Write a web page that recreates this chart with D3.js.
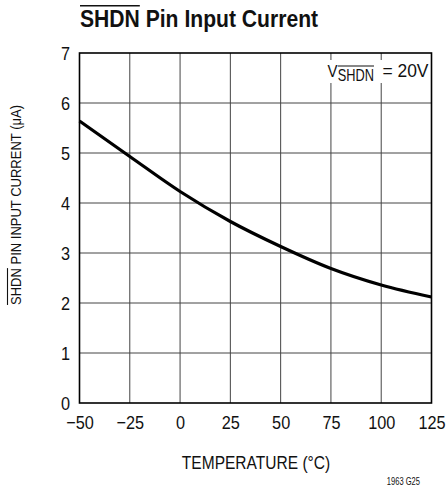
<!DOCTYPE html>
<html>
<head>
<meta charset="utf-8">
<script src="https://cdn.jsdelivr.net/npm/d3@7"></script>
<style>
  html, body { margin: 0; padding: 0; background: #fff; }
  svg { display: block; }
  text { font-family: "Liberation Sans", Arial, Helvetica, sans-serif; fill: #111; }
</style>
</head>
<body>
<svg id="chart" width="447" height="491"></svg>
<script>
// SHDN pin input current vs. temperature (V_SHDN = 20V)
const temperatures = [-50, -25, 0, 25, 50, 75, 100, 125];
const currents     = [5.64, 4.93, 4.23, 3.63, 3.13, 2.69, 2.36, 2.12];
const xTicks = [-50, -25, 0, 25, 50, 75, 100, 125];
const yTicks = [0, 1, 2, 3, 4, 5, 6, 7];

const svg = d3.select("#chart");
const plot = { left: 79.5, right: 431.5, top: 53, bottom: 403 };

const x = d3.scaleLinear().domain([-50, 125]).range([plot.left, plot.right]);
const y = d3.scaleLinear().domain([0, 7]).range([plot.bottom, plot.top]);

// condensed text: a group that squeezes its contents horizontally
function squeezed(px, py, sx) {
  return svg.append("g").attr("transform", `translate(${px},${py}) scale(${sx},1)`);
}
function overlineChars(g, textSel, from, to, yLine, w) {
  const n = textSel.node();
  const s = n.getStartPositionOfChar(from);
  const e = n.getEndPositionOfChar(to);
  g.append("line").attr("x1", s.x).attr("x2", e.x)
    .attr("y1", yLine).attr("y2", yLine)
    .attr("stroke", "#111").attr("stroke-width", w);
}

// grid
const grid = svg.append("g");
grid.selectAll("line.v").data(xTicks.slice(1, -1)).join("line")
  .attr("x1", d => x(d)).attr("x2", d => x(d))
  .attr("y1", plot.top).attr("y2", plot.bottom)
  .attr("stroke", "#444").attr("stroke-width", 1);
grid.selectAll("line.h").data(yTicks.slice(1, -1)).join("line")
  .attr("y1", d => y(d)).attr("y2", d => y(d))
  .attr("x1", plot.left).attr("x2", plot.right)
  .attr("stroke", "#444").attr("stroke-width", 1);

// curve
const line = d3.line().x((d, i) => x(temperatures[i])).y(d => y(d)).curve(d3.curveMonotoneX);
svg.append("path").datum(currents)
  .attr("d", line).attr("fill", "none")
  .attr("stroke", "#000").attr("stroke-width", 3.2).attr("stroke-linejoin", "round");

// legend: white box over the grid, then V_SHDN = 20V
svg.append("rect").attr("x", 324).attr("y", 60).attr("width", 106).attr("height", 23).attr("fill", "#fff");
{
  let cx = 327.5;
  const sxV = 0.88, sxS = 0.8;
  const gV = squeezed(cx, 77, sxV);
  const tV = gV.append("text").attr("font-size", 17).text("V");
  cx += tV.node().getComputedTextLength() * sxV + 0.3;
  const gSub = squeezed(cx, 80.5, sxS);
  const subT = gSub.append("text").attr("font-size", 16).text("SHDN");
  overlineChars(gSub, subT, 0, 3, -14.5, 1.2);
  const gEq = squeezed(428.5, 77, 0.97);
  gEq.append("text").attr("font-size", 18).attr("text-anchor", "end").text("= 20V");
}

// frame
svg.append("rect")
  .attr("x", plot.left).attr("y", plot.top)
  .attr("width", plot.right - plot.left).attr("height", plot.bottom - plot.top)
  .attr("fill", "none").attr("stroke", "#000").attr("stroke-width", 1.6);

// axes (tick labels only; grid and frame draw the lines)
const tickSx = 0.88;
const xAxis = d3.axisBottom(x).tickValues(xTicks).tickSize(0)
  .tickFormat(d => d < 0 ? "\u2212" + Math.abs(d) : String(d));
const gx = svg.append("g").attr("transform", `translate(0,${plot.bottom})`).call(xAxis);
gx.select(".domain").remove();
gx.selectAll("text")
  .attr("font-size", 18.5).attr("font-family", null).attr("fill", "#111")
  .attr("y", 26).attr("dy", 0)
  .attr("transform", `scale(${tickSx},1)`);

const yAxis = d3.axisLeft(y).tickValues(yTicks).tickSize(0).tickFormat(d3.format("d"));
const gy = svg.append("g").attr("transform", `translate(${plot.left},0)`).call(yAxis);
gy.select(".domain").remove();
gy.selectAll("text")
  .attr("font-size", 18.5).attr("font-family", null).attr("fill", "#111")
  .attr("x", -9.5 / tickSx).attr("dy", "0.37em")
  .attr("transform", `scale(${tickSx},1)`);

// title
const gTitle = squeezed(80, 27.3, 0.88);
const titleT = gTitle.append("text").attr("font-size", 24).attr("font-weight", "bold")
  .text("SHDN Pin Input Current");
overlineChars(gTitle, titleT, 0, 3, -21.5, 1.6);

// x axis title
const gXT = squeezed(256, 469, 0.84);
gXT.append("text").attr("font-size", 18.5).attr("text-anchor", "middle")
  .text("TEMPERATURE (\u00B0C)");

// y axis title
const gYT = svg.append("g").attr("transform", "translate(21,205) rotate(-90) scale(0.84,1)");
const yTitle = gYT.append("text").attr("font-size", 15.5).attr("text-anchor", "middle")
  .text("SHDN PIN INPUT CURRENT (\u03BCA)");
overlineChars(gYT, yTitle, 0, 3, -13.5, 1.1);

// footnote
const gFoot = squeezed(420, 485, 0.72);
gFoot.append("text").attr("font-size", 10.5).attr("text-anchor", "end").text("1963 G25");
</script>
</body>
</html>
